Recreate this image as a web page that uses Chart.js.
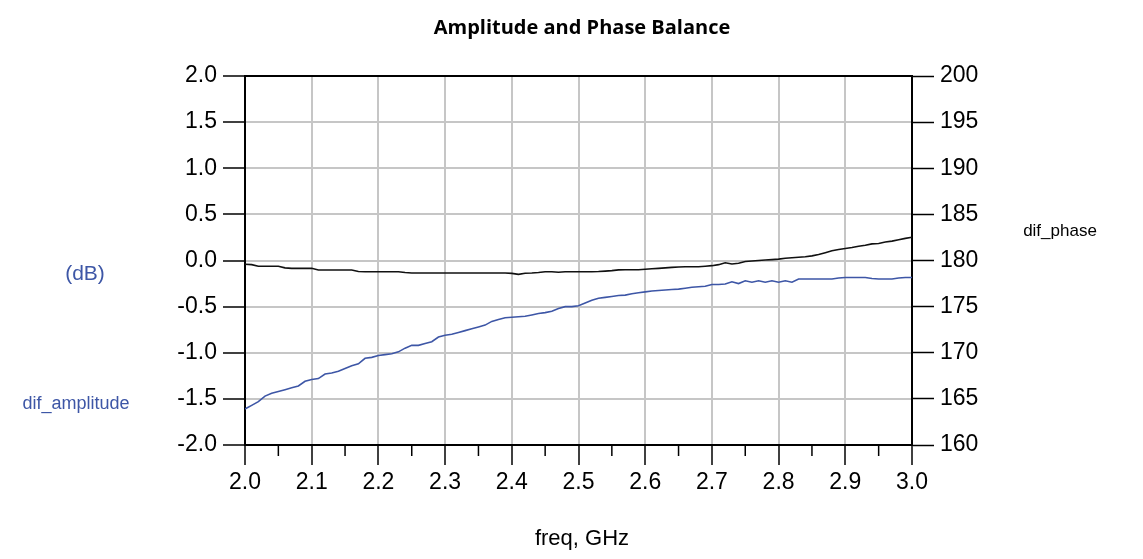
<!DOCTYPE html>
<html>
<head>
<meta charset="utf-8">
<script src="https://cdn.jsdelivr.net/npm/chart.js@4.4.1/dist/chart.umd.min.js"></script>
<style>
  html, body { margin: 0; padding: 0; background: #fff; }
  #wrap { width: 1143px; height: 559px; }
</style>
</head>
<body>
<div id="wrap"><canvas id="chart" width="1143" height="559"></canvas></div>
<script>
// freq in GHz, step 0.01
const freq = [];
for (let i = 0; i <= 100; i++) freq.push(+(2 + i / 100).toFixed(2));

// dif_amplitude (dB), left axis
const difAmplitude = [
  -1.61, -1.57, -1.53, -1.47, -1.44, -1.42, -1.40, -1.38, -1.36, -1.31,
  -1.29, -1.28, -1.23, -1.22, -1.20, -1.17, -1.14, -1.12, -1.06, -1.05,
  -1.03, -1.02, -1.01, -0.99, -0.95, -0.92, -0.92, -0.90, -0.88, -0.83,
  -0.81, -0.80, -0.78, -0.76, -0.74, -0.72, -0.70, -0.66, -0.64, -0.62,
  -0.615, -0.61, -0.605, -0.59, -0.575, -0.565, -0.55, -0.52, -0.50, -0.50,
  -0.49, -0.46, -0.43, -0.41, -0.40, -0.39, -0.38, -0.375, -0.36, -0.35,
  -0.34, -0.33, -0.325, -0.32, -0.315, -0.31, -0.30, -0.29, -0.285, -0.28,
  -0.26, -0.26, -0.255, -0.23, -0.25, -0.22, -0.235, -0.22, -0.235, -0.22,
  -0.235, -0.22, -0.235, -0.20, -0.20, -0.20, -0.20, -0.20, -0.20, -0.19,
  -0.185, -0.185, -0.185, -0.185, -0.195, -0.20, -0.20, -0.20, -0.19, -0.185,
  -0.185
];

// dif_phase (deg), right axis
const difPhase = [
  179.59, 179.55, 179.37, 179.37, 179.37, 179.37, 179.20, 179.15, 179.15, 179.15,
  179.15, 178.97, 178.97, 178.97, 178.97, 178.97, 178.97, 178.80, 178.78, 178.78,
  178.78, 178.78, 178.78, 178.78, 178.70, 178.64, 178.64, 178.64, 178.64, 178.64,
  178.64, 178.64, 178.64, 178.64, 178.64, 178.64, 178.64, 178.64, 178.64, 178.64,
  178.60, 178.50, 178.62, 178.64, 178.70, 178.78, 178.78, 178.72, 178.78, 178.78,
  178.78, 178.78, 178.78, 178.80, 178.85, 178.90, 178.98, 179.00, 179.00, 179.00,
  179.05, 179.10, 179.15, 179.20, 179.25, 179.30, 179.33, 179.33, 179.33, 179.38,
  179.44, 179.55, 179.76, 179.62, 179.70, 179.90, 179.95, 180.00, 180.05, 180.10,
  180.15, 180.25, 180.30, 180.35, 180.40, 180.50, 180.65, 180.85, 181.05, 181.20,
  181.30, 181.40, 181.55, 181.65, 181.80, 181.85, 182.00, 182.10, 182.25, 182.40,
  182.52
];

const minorTicks = [2.05, 2.15, 2.25, 2.35, 2.45, 2.55, 2.65, 2.75, 2.85, 2.95];

const tickFont = { family: '"Liberation Sans Narrow", "Liberation Sans", Arial, sans-serif', size: 23 };
const gridGray = '#c6c6c6';
const blue = '#3d56a6';

// frame top + minor ticks + side labels
const extras = {
  id: 'extras',
  afterDraw(chart) {
    const ctx = chart.ctx;
    const a = chart.chartArea;
    const xs = chart.scales.x;
    ctx.save();
    ctx.strokeStyle = '#000';
    ctx.lineWidth = 2;
    ctx.beginPath();
    ctx.moveTo(a.left, a.top);
    ctx.lineTo(a.right, a.top);
    ctx.stroke();

    ctx.lineWidth = 1.5;
    minorTicks.forEach(v => {
      const px = xs.getPixelForValue(v);
      ctx.beginPath();
      ctx.moveTo(px, a.bottom);
      ctx.lineTo(px, a.bottom + 11);
      ctx.stroke();
    });

    ctx.textAlign = 'center';
    ctx.textBaseline = 'middle';
    ctx.fillStyle = '#000';
    ctx.font = 'bold 20px "Open Sans", sans-serif';
    ctx.fillText('Amplitude and Phase Balance', 582, 28);

    ctx.font = '22px "Liberation Sans Narrow", "Liberation Sans", sans-serif';
    ctx.fillText('freq, GHz', 582, 539);

    ctx.font = '17px "Liberation Sans", Arial, sans-serif';
    ctx.fillText('dif_phase', 1060, 231);

    ctx.fillStyle = blue;
    ctx.font = '21px "Liberation Sans", Arial, sans-serif';
    ctx.fillText('(dB)', 85, 274);
    ctx.font = '18px "Liberation Sans", Arial, sans-serif';
    ctx.fillText('dif_amplitude', 76, 404);
    ctx.restore();
  }
};

new Chart(document.getElementById('chart'), {
  type: 'line',
  data: {
    datasets: [
      {
        label: 'dif_phase',
        data: freq.map((f, i) => ({ x: f, y: difPhase[i] })),
        yAxisID: 'yR',
        borderColor: '#111',
        borderWidth: 1.6,
        pointRadius: 0,
        tension: 0
      },
      {
        label: 'dif_amplitude',
        data: freq.map((f, i) => ({ x: f, y: difAmplitude[i] })),
        yAxisID: 'yL',
        borderColor: blue,
        borderWidth: 1.6,
        pointRadius: 0,
        tension: 0
      }
    ]
  },
  options: {
    responsive: false,
    animation: false,
    layout: { padding: { left: 175, right: 161, top: 76, bottom: 64 } },
    plugins: { legend: { display: false }, title: { display: false }, tooltip: { enabled: false } },
    scales: {
      x: {
        type: 'linear',
        min: 2, max: 3,
        afterFit(s) { s.height = 50; },
        ticks: { stepSize: 0.1, color: '#000', font: tickFont, padding: 4, maxRotation: 0,
                 callback: v => v.toFixed(1) },
        grid: { color: gridGray, lineWidth: 2, tickLength: 20, tickColor: '#000', tickWidth: 1.5 },
        border: { color: '#000', width: 2 }
      },
      yL: {
        position: 'left',
        min: -2, max: 2,
        afterFit(s) { s.width = 70; },
        ticks: { stepSize: 0.5, color: '#000', font: tickFont, padding: 6,
                 callback: v => v.toFixed(1) },
        grid: { color: gridGray, lineWidth: 2, tickLength: 22, tickColor: '#000', tickWidth: 1.5 },
        border: { color: '#000', width: 2 }
      },
      yR: {
        position: 'right',
        min: 160, max: 200,
        afterFit(s) { s.width = 70; },
        ticks: { stepSize: 5, color: '#000', font: tickFont, padding: 6 },
        grid: { drawOnChartArea: false, tickLength: 22, tickColor: '#000', tickWidth: 1.5 },
        border: { color: '#000', width: 2 }
      }
    }
  },
  plugins: [extras]
});
</script>
</body>
</html>
